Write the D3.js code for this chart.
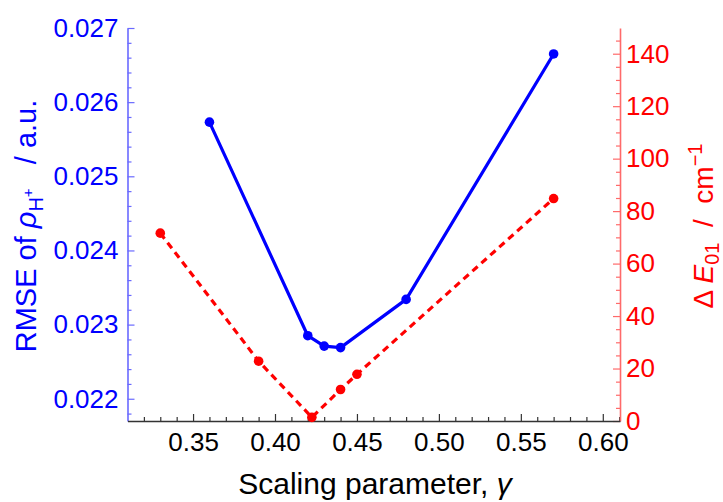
<!DOCTYPE html>
<html>
<head>
<meta charset="utf-8">
<script src="https://cdn.jsdelivr.net/npm/d3@7"></script>
<style>
  html, body { margin: 0; padding: 0; background: #fff; }
  svg { display: block; font-family: "Liberation Sans", Arial, sans-serif; }
</style>
</head>
<body>
<svg id="chart" width="723" height="502"></svg>
<script>
// ---- data ----
const gammaRMSE = [0.36, 0.42, 0.43, 0.44, 0.48, 0.57];
const rmseValues = [0.02573, 0.02285, 0.02271, 0.02269, 0.02334, 0.02665];
const gammaDE = [0.33, 0.39, 0.4225, 0.44, 0.45, 0.57];
const deltaEValues = [71.6, 22.8, 1.4, 12.0, 17.8, 84.8];
const xTicks = [0.35, 0.40, 0.45, 0.50, 0.55, 0.60];
const leftTicks = [0.022, 0.023, 0.024, 0.025, 0.026, 0.027];
const rightTicks = [0, 20, 40, 60, 80, 100, 120, 140];

const svg = d3.select("#chart");
const L = 127.5, R = 620, T = 28, B = 421;

const x = d3.scaleLinear().domain([0.31, 0.6105]).range([L, R]);
const yL = d3.scaleLinear().domain([0.0217, 0.027]).range([B, T]);
const yR = d3.scaleLinear().domain([0, 149.8]).range([B, T]);

const blue = "#0000ff", red = "#ff0000";
const blueAxis = "#6a6aff", redAxis = "#ff6a6a";

function styleAxis(g, color, textColor) {
  g.select(".domain").attr("stroke", color).attr("stroke-width", 1.6);
  g.selectAll(".tick line").attr("stroke", color).attr("stroke-width", 1.2);
  g.selectAll(".tick text").attr("fill", textColor).style("font-size", "26px")
    .style("font-family", "'Liberation Sans', Arial, sans-serif");
}

// minor ticks
const xMinor = d3.range(0.32, 0.6105, 0.01).filter(v => !xTicks.some(t => Math.abs(t - v) < 1e-6));
const lMinor = d3.range(0.0218, 0.02701, 0.0002).filter(v => !leftTicks.some(t => Math.abs(t - v) < 1e-7));
const rMinor = d3.range(5, 150, 5).filter(v => v % 20 !== 0);

svg.append("g").attr("transform", `translate(0,${B})`)
  .call(d3.axisBottom(x).tickValues(xMinor).tickSize(-4).tickFormat(""))
  .call(g => { g.select(".domain").remove(); g.selectAll("line").attr("stroke", "#333").attr("stroke-width", 1.2); });
svg.append("g").attr("transform", `translate(${L},0)`)
  .call(d3.axisLeft(yL).tickValues(lMinor).tickSize(-4).tickFormat(""))
  .call(g => { g.select(".domain").remove(); g.selectAll("line").attr("stroke", blueAxis).attr("stroke-width", 1.2); });
svg.append("g").attr("transform", `translate(${R},0)`)
  .call(d3.axisRight(yR).tickValues(rMinor).tickSize(-4).tickFormat(""))
  .call(g => { g.select(".domain").remove(); g.selectAll("line").attr("stroke", redAxis).attr("stroke-width", 1.2); });

// major axes
svg.append("g").attr("transform", `translate(${L},0)`)
  .call(d3.axisLeft(yL).tickValues(leftTicks).tickSize(-7).tickSizeOuter(0).tickPadding(9).tickFormat(d3.format(".3f")))
  .call(g => styleAxis(g, blueAxis, blue));
svg.append("g").attr("transform", `translate(${R},0)`)
  .call(d3.axisRight(yR).tickValues(rightTicks).tickSize(-7).tickSizeOuter(0).tickPadding(6).tickFormat(d3.format("d")))
  .call(g => styleAxis(g, redAxis, red));
svg.append("g").attr("transform", `translate(0,${B})`)
  .call(d3.axisBottom(x).tickValues(xTicks).tickSize(-7).tickSizeOuter(0).tickPadding(12).tickFormat(d3.format(".2f")))
  .call(g => styleAxis(g, "#333", "#000"));

// series: RMSE (blue, solid)
const rmseData = gammaRMSE.map((g, i) => [g, rmseValues[i]]);
svg.append("path").datum(rmseData)
  .attr("fill", "none").attr("stroke", blue).attr("stroke-width", 3.2)
  .attr("stroke-linejoin", "round")
  .attr("d", d3.line().x(d => x(d[0])).y(d => yL(d[1])));
svg.append("g").selectAll("circle").data(rmseData).join("circle")
  .attr("cx", d => x(d[0])).attr("cy", d => yL(d[1])).attr("r", 4.8).attr("fill", blue);

// series: Delta E (red, dashed)
const deData = gammaDE.map((g, i) => [g, deltaEValues[i]]);
svg.append("path").datum(deData)
  .attr("fill", "none").attr("stroke", red).attr("stroke-width", 3.2)
  .attr("stroke-dasharray", "7,5")
  .attr("d", d3.line().x(d => x(d[0])).y(d => yR(d[1])));
svg.append("g").selectAll("circle").data(deData).join("circle")
  .attr("cx", d => x(d[0])).attr("cy", d => yR(d[1])).attr("r", 4.8).attr("fill", red);

// axis titles
const xt = svg.append("text").attr("x", 375).attr("y", 493.5)
  .attr("text-anchor", "middle").attr("fill", "#000").style("font-size", "30px");
xt.append("tspan").text("Scaling parameter, ");
xt.append("tspan").style("font-style", "italic").text("γ");

const lt = svg.append("text").attr("transform", "translate(36,226) rotate(-90)")
  .attr("text-anchor", "middle").attr("fill", blue).style("font-size", "29px")
  .attr("xml:space", "preserve");
lt.append("tspan").text("RMSE of ");
lt.append("tspan").style("font-style", "italic").text("ρ");
lt.append("tspan").attr("dy", 7).style("font-size", "20px").text("H");
lt.append("tspan").attr("dy", -10).style("font-size", "15px").text("+");
lt.append("tspan").attr("dy", 3).text("   / a.u.");

const rt = svg.append("text").attr("transform", "translate(713,226) rotate(-90)")
  .attr("text-anchor", "middle").attr("fill", red).style("font-size", "28px")
  .attr("xml:space", "preserve");
rt.append("tspan").text("Δ ");
rt.append("tspan").style("font-style", "italic").text("E");
rt.append("tspan").attr("dy", 6).style("font-size", "20px").text("01");
rt.append("tspan").attr("dy", -6).text("  /  cm");
rt.append("tspan").attr("dy", -11).style("font-size", "20px").text("−1");
</script>
</body>
</html>
